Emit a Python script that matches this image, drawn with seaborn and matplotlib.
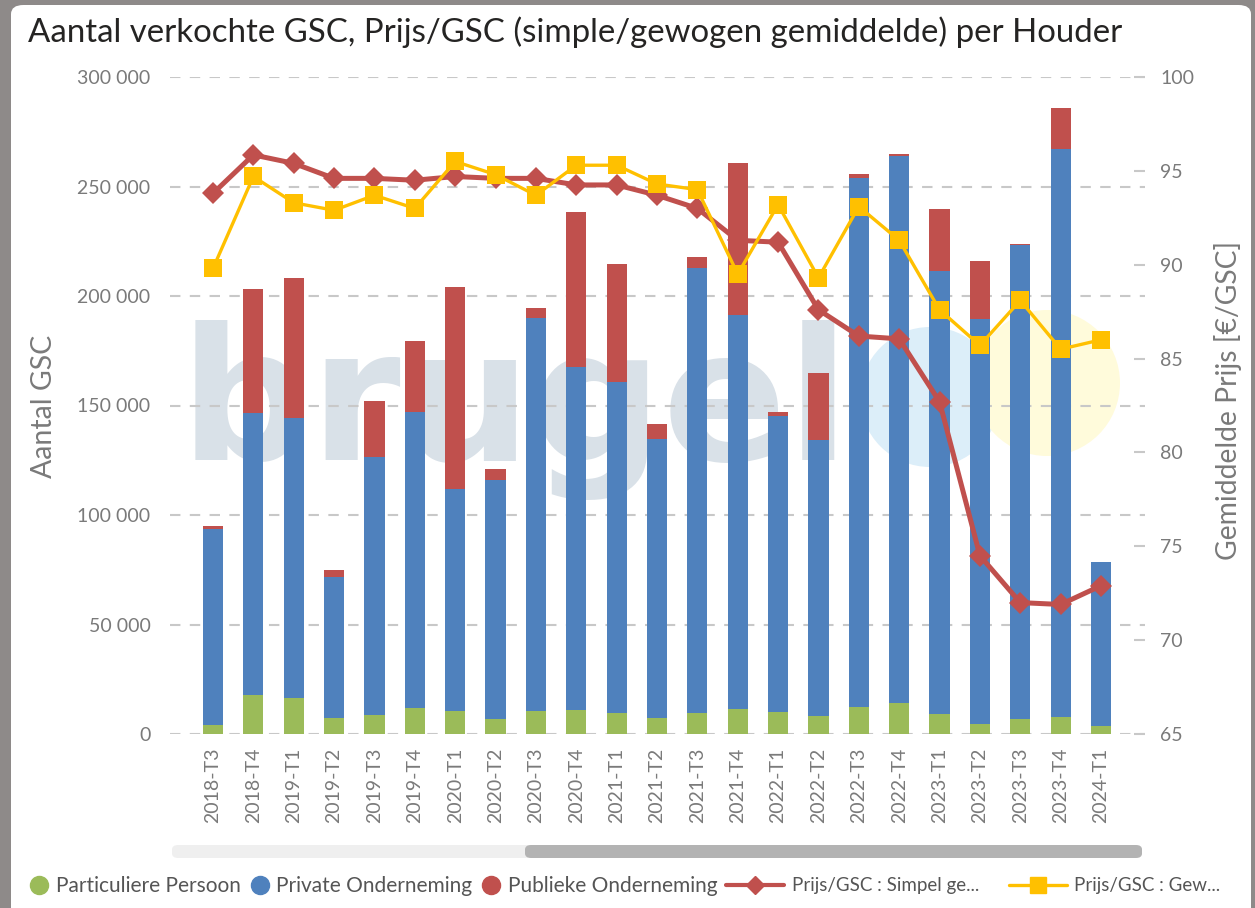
import numpy as np
import pandas as pd
import matplotlib
matplotlib.use("Agg")
import matplotlib.pyplot as plt
from matplotlib.lines import Line2D
from matplotlib.patches import FancyBboxPatch, Ellipse
import seaborn as sns

# Data (lezen uit de grafiek)
quarters = ["2018-T3", "2018-T4", "2019-T1", "2019-T2", "2019-T3", "2019-T4",
            "2020-T1", "2020-T2", "2020-T3", "2020-T4", "2021-T1", "2021-T2",
            "2021-T3", "2021-T4", "2022-T1", "2022-T2", "2022-T3", "2022-T4",
            "2023-T1", "2023-T2", "2023-T3", "2023-T4", "2024-T1"]
particuliere = [4000, 17800, 16400, 7300, 8700, 11900, 10500, 6800, 10500, 11000, 9600, 7300,
                9600, 11400, 10000, 8200, 12300, 14200, 9100, 4600, 6800, 7800, 3700]
private = [89600, 128800, 127900, 64400, 117800, 135100, 101400, 109200, 179500, 156600, 151100, 127400,
           203200, 179900, 135200, 126000, 241600, 249700, 202300, 184900, 216500, 259300, 74800]
publieke = [1400, 56600, 63900, 3200, 25500, 32400, 92200, 5000, 4500, 70700, 53900, 6800,
            5000, 69400, 1800, 30600, 1800, 900, 28300, 26500, 500, 18700, 0]
prijs_simpel = [93.8, 95.85, 95.4, 94.6, 94.6, 94.5, 94.7, 94.6, 94.6, 94.25, 94.25, 93.7,
                93.0, 91.3, 91.2, 87.6, 86.2, 86.05, 82.7, 74.5, 72.0, 71.9, 72.9]
prijs_gewogen = [89.8, 94.7, 93.3, 92.9, 93.7, 93.0, 95.5, 94.8, 93.7, 95.3, 95.3, 94.3,
                 94.0, 89.5, 93.2, 89.3, 93.1, 91.3, 87.6, 85.7, 88.1, 85.5, 86.0]
left_ticks = [0, 50000, 100000, 150000, 200000, 250000, 300000]
right_ticks = [65, 70, 75, 80, 85, 90, 95, 100]

groen, blauw, rood, geel = "#9bbb59", "#4f81bd", "#c0504d", "#ffc000"
grijs = "#7a7a7a"

df = pd.DataFrame({"kwartaal": quarters, "part": particuliere, "priv": private, "publ": publieke,
                   "simpel": prijs_simpel, "gewogen": prijs_gewogen})
df["stap1"] = df["part"] + df["priv"]
df["totaal"] = df["stap1"] + df["publ"]

sns.set_theme(style="white")
plt.rcParams["font.family"] = ["Lato", "DejaVu Sans"]

W, H = 1255, 908
fig = plt.figure(figsize=(W / 100, H / 100), dpi=100)
fig.patch.set_facecolor("#8e8a89")

def fx(px):
    return px / W

def fy(py):
    return 1 - py / H

# witte kaart
kaart = FancyBboxPatch((fx(11), fy(940)), fx(1251) - fx(11), fy(5) - fy(940),
                       boxstyle="round,pad=0,rounding_size=0.01", transform=fig.transFigure,
                       facecolor="white", edgecolor="none", zorder=-3)
fig.patches.append(kaart)

# watermerk
fig.text(fx(180), fy(460), "brugel", fontsize=132, fontweight="bold", color="#d9e1e8",
         ha="left", va="baseline", zorder=-2, family="DejaVu Sans")
fig.patches.append(Ellipse((fx(930), fy(397)), fx(140), 140 / H, transform=fig.transFigure,
                           facecolor="#dceef9", edgecolor="none", zorder=-2))
fig.patches.append(Ellipse((fx(1047), fy(383)), fx(146), 146 / H, transform=fig.transFigure,
                           facecolor="#fffbdb", edgecolor="none", zorder=-2))

ax = fig.add_axes([fx(170), fy(734), fx(975), 657 / H])
ax.set_facecolor("none")

# gestapelde staven
sns.barplot(data=df, x="kwartaal", y="totaal", color=rood, saturation=1, width=0.5,
            linewidth=0, ax=ax)
sns.barplot(data=df, x="kwartaal", y="stap1", color=blauw, saturation=1, width=0.5,
            linewidth=0, ax=ax)
sns.barplot(data=df, x="kwartaal", y="part", color=groen, saturation=1, width=0.5,
            linewidth=0, ax=ax)

ax.set_ylim(0, 300000)
ax.set_yticks(left_ticks)
ax.set_yticklabels([f"{v:,}".replace(",", " ") for v in left_ticks])
ax.set_xlim(-1.065, 23.09)
ax.set_axisbelow(True)
ax.yaxis.grid(True, linestyle=(0, (5, 4.5)), color="#c8c8c8", lw=1.5)
ax.xaxis.grid(False)
for s in ax.spines.values():
    s.set_visible(False)
ax.tick_params(axis="y", length=0, pad=14, labelsize=14, labelcolor=grijs)
ax.tick_params(axis="x", length=0, pad=10, labelsize=14, labelcolor=grijs, rotation=90)
ax.set_xlabel("")
ax.set_ylabel("Aantal GSC", fontsize=20.5, color=grijs)
ax.yaxis.set_label_coords(-0.116, 0.499)

# lijnen op tweede as
ax2 = ax.twinx()
sns.lineplot(data=df, x="kwartaal", y="simpel", sort=False, color=rood, lw=3.6, marker="D",
             markersize=11, markeredgecolor=rood, markeredgewidth=0, ax=ax2, zorder=3)
sns.lineplot(data=df, x="kwartaal", y="gewogen", sort=False, color=geel, lw=2.4, marker="s",
             markersize=13, markeredgecolor=geel, markeredgewidth=0, ax=ax2, zorder=4)
ax2.set_ylim(65, 100)
ax2.set_yticks(right_ticks)
ax2.set_xlim(-1.065, 23.09)
for s in ax2.spines.values():
    s.set_visible(False)
ax2.grid(False)
ax2.tick_params(axis="y", direction="in", length=8, width=1.5, color="#c8c8c8", pad=11,
                labelsize=14, labelcolor=grijs)
ax2.set_ylabel("Gemiddelde Prijs [€/GSC]", fontsize=20.3, color=grijs)
ax2.yaxis.set_label_coords(1.071, 0.507)
ax2.set_xlabel("")

# titel
fig.text(fx(28), fy(32), "Aantal verkochte GSC, Prijs/GSC (simple/gewogen gemiddelde) per Houder",
         fontsize=23.8, color="#252423", ha="left", va="center")

# schuifbalk
fig.patches.append(FancyBboxPatch((fx(172), fy(858)), fx(970), 13 / H,
                                  boxstyle="round,pad=0,rounding_size=0.005", transform=fig.transFigure,
                                  facecolor="#efefef", edgecolor="none"))
fig.patches.append(FancyBboxPatch((fx(525), fy(858)), fx(617), 13 / H,
                                  boxstyle="round,pad=0,rounding_size=0.005", transform=fig.transFigure,
                                  facecolor="#b3b3b3", edgecolor="none"))

# legenda: cirkels voor staven, lijnen voor prijzen
bar_handles = [Line2D([], [], marker="o", color=c, linestyle="none", markersize=13)
               for c in (groen, blauw, rood)]
bar_labels = ["Particuliere Persoon", "Private Onderneming", "Publieke Onderneming"]
line_handles = [Line2D([], [], marker="D", color=rood, lw=3, markersize=9),
                Line2D([], [], marker="s", color=geel, lw=2.4, markersize=11)]
line_labels = ["Prijs/GSC : Simpel ge...", "Prijs/GSC : Gew..."]

leg1 = fig.legend(bar_handles, bar_labels, loc="center left", bbox_to_anchor=(fx(31), fy(886)),
                  ncol=3, frameon=False, fontsize=15, handlelength=0.8, handletextpad=0.4,
                  columnspacing=0.5, borderaxespad=0, borderpad=0)
leg2 = fig.legend(line_handles, line_labels, loc="center left", bbox_to_anchor=(fx(726), fy(886)),
                  ncol=2, frameon=False, fontsize=13.5, handlelength=3.1, handletextpad=0.4,
                  columnspacing=1.6, borderaxespad=0, borderpad=0)
for lg in (leg1, leg2):
    for t in lg.get_texts():
        t.set_color("#555555")

fig.savefig("out.png", dpi=100, facecolor=fig.get_facecolor())
